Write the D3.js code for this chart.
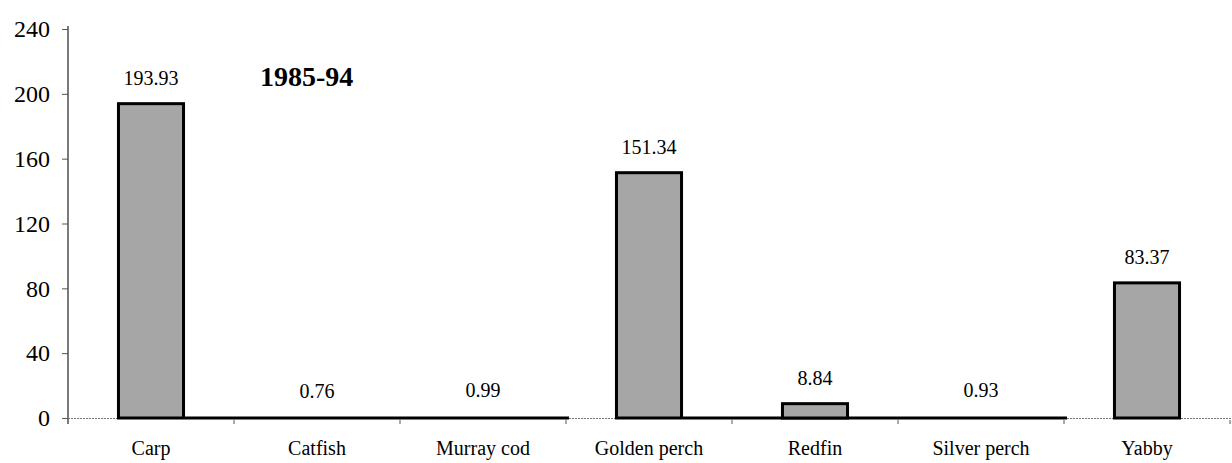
<!DOCTYPE html>
<html>
<head>
<meta charset="utf-8">
<script src="https://cdn.jsdelivr.net/npm/d3@7"></script>
<style>
  html, body { margin: 0; padding: 0; background: #fff; }
  svg { display: block; }
</style>
</head>
<body>
<svg id="chart" width="1232" height="463"></svg>
<script>
// ---- data ----
const categories = ["Carp", "Catfish", "Murray cod", "Golden perch", "Redfin", "Silver perch", "Yabby"];
const values = [193.93, 0.76, 0.99, 151.34, 8.84, 0.93, 83.37];
const valueLabels = ["193.93", "0.76", "0.99", "151.34", "8.84", "0.93", "83.37"];
const yTicks = [0, 40, 80, 120, 160, 200, 240];
const title = "1985-94";
// runs of the baseline drawn heavy in the original (from right edge of first bar to end of last band)
const heavyRuns = [["Carp", "Murray cod"], ["Golden perch", "Silver perch"]];

// ---- layout ----
const W = 1232, H = 463;
const mLeft = 68, mRight = 1230, mTop = 29, mBottom = 418;
const SERIF = '"Liberation Serif", "DejaVu Serif", serif';

const svg = d3.select("#chart");

const x = d3.scaleBand().domain(categories).range([mLeft, mRight])
  .paddingInner(0.59).paddingOuter(0.295);
const y = d3.scaleLinear().domain([0, 240]).range([mBottom, mTop]);
const step = x.step();
const bw = x.bandwidth();
const bandEnd = c => x(c) - x.paddingOuter() * step + step;

// dotted thin baseline
svg.append("line")
  .attr("x1", mLeft - 6).attr("x2", W)
  .attr("y1", mBottom + 0.5).attr("y2", mBottom + 0.5)
  .attr("stroke", "#777").attr("stroke-width", 1)
  .attr("stroke-dasharray", "2,1");

// y axis
const yAxis = d3.axisLeft(y).tickValues(yTicks).tickSize(6).tickPadding(12);
const gy = svg.append("g").attr("transform", `translate(${mLeft},0)`).call(yAxis);
gy.attr("font-family", null).attr("font-size", null);
gy.select(".domain").attr("stroke", "#7a7a7a").attr("stroke-width", 2)
  .attr("d", `M0,${mTop - 3}V${mBottom + 6}`);
gy.selectAll(".tick line").attr("stroke", "#555").attr("stroke-width", 1);
gy.selectAll(".tick text")
  .style("font-family", SERIF)
  .style("font-size", "24px").attr("fill", "#000");

// x category boundary ticks
svg.append("g").selectAll("line").data(categories).join("line")
  .attr("x1", d => bandEnd(d)).attr("x2", d => bandEnd(d))
  .attr("y1", mBottom + 2).attr("y2", mBottom + 6)
  .attr("stroke", "#555").attr("stroke-width", 1);

// heavy baseline runs
svg.append("g").selectAll("line").data(heavyRuns).join("line")
  .attr("x1", d => x(d[0]) + bw)
  .attr("x2", d => bandEnd(d[1]) + 3)
  .attr("y1", mBottom).attr("y2", mBottom)
  .attr("stroke", "#000").attr("stroke-width", 3);

// bars (only those clearly above the baseline get a box)
const data = categories.map((c, i) => ({ c, v: values[i], label: valueLabels[i] }));
svg.append("g").selectAll("rect").data(data.filter(d => d.v >= 2)).join("rect")
  .attr("x", d => x(d.c) + 1.5)
  .attr("y", d => y(d.v))
  .attr("width", bw - 3)
  .attr("height", d => y(0) - y(d.v))
  .attr("fill", "#a6a6a6")
  .attr("stroke", "#000").attr("stroke-width", 3);

// value labels
svg.append("g").selectAll("text").data(data).join("text")
  .attr("x", d => x(d.c) + bw / 2)
  .attr("y", d => y(d.v) - 19)
  .attr("text-anchor", "middle")
  .style("font-family", SERIF)
  .style("font-size", "20px")
  .text(d => d.label);

// category labels
svg.append("g").selectAll("text").data(categories).join("text")
  .attr("x", d => x(d) + bw / 2)
  .attr("y", 455)
  .attr("text-anchor", "middle")
  .style("font-family", SERIF)
  .style("font-size", "20px")
  .text(d => d);

// title
svg.append("text")
  .attr("x", 260).attr("y", 86)
  .style("font-family", SERIF)
  .style("font-size", "28px").style("font-weight", "bold")
  .text(title);
</script>
</body>
</html>
